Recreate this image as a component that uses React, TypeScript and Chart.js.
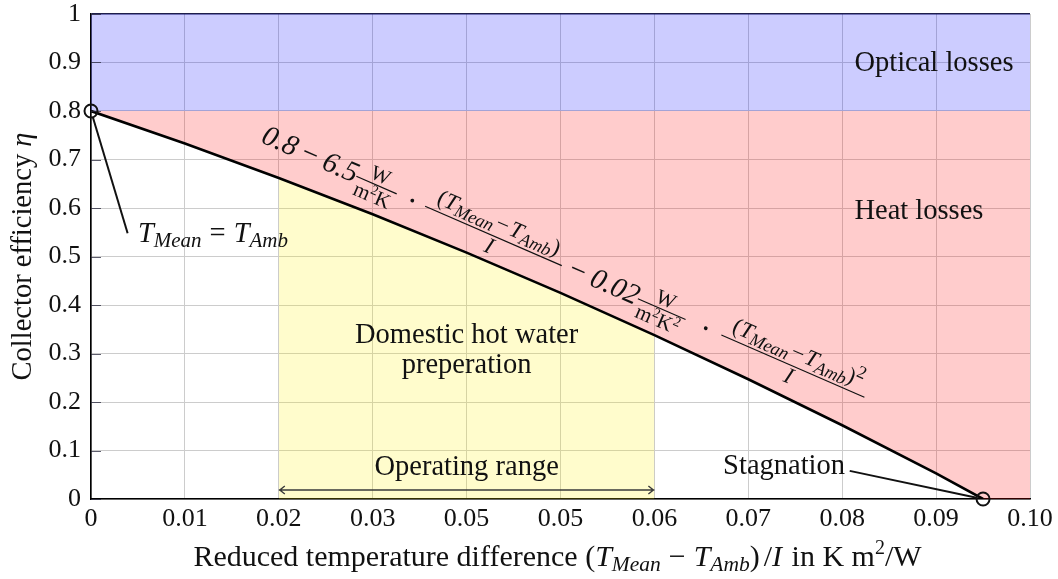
import React, { useEffect, useRef } from 'react';
import { Chart, registerables } from 'chart.js';

Chart.register(...registerables);

// Axis ticks
const xTickValues = [0, 0.01, 0.02, 0.03, 0.04, 0.05, 0.06, 0.07, 0.08, 0.09, 0.1];
const xTickLabels = ['0', '0.01', '0.02', '0.03', '0.05', '0.05', '0.06', '0.07', '0.08', '0.09', '0.10'];
const yTickValues = [0, 0.1, 0.2, 0.3, 0.4, 0.5, 0.6, 0.7, 0.8, 0.9, 1];
const yTickLabels = ['0', '0.1', '0.2', '0.3', '0.4', '0.5', '0.6', '0.7', '0.8', '0.9', '1'];

// Collector efficiency curve
const reducedTempDiff = [0, 0.01, 0.02, 0.03, 0.04, 0.05, 0.06, 0.07, 0.08, 0.09, 0.095];
const efficiency = [0.8, 0.733, 0.662, 0.587, 0.508, 0.425, 0.338, 0.247, 0.152, 0.053, 0];

// Regions
const xMax = 0.1;
const yMax = 1;
const opticalEfficiency = 0.8;
const operatingRange = [0.02, 0.06];
const operatingArrowY = 0.0186;

// Marked points: zero-loss point and stagnation point
const zeroLossPoint = { x: 0, y: 0.8 };
const stagnationPoint = { x: 0.095, y: 0 };

const SERIF = '"Liberation Serif", "Times New Roman", serif';
const INK = '#111111';
const TEXT = 28.5;

type Seg = { t: string; size: number; italic?: boolean; dy?: number; gap?: number };

function fontOf(s: Seg) {
  return `${s.italic ? 'italic ' : ''}${s.size}px ${SERIF}`;
}

function richWidth(ctx: CanvasRenderingContext2D, segs: Seg[]) {
  let w = 0;
  for (const s of segs) {
    ctx.font = fontOf(s);
    w += ctx.measureText(s.t).width + (s.gap || 0);
  }
  return w;
}

function drawRich(
  ctx: CanvasRenderingContext2D,
  segs: Seg[],
  x: number,
  y: number,
  align: 'left' | 'center' | 'right' = 'left'
) {
  const w = richWidth(ctx, segs);
  let cx = align === 'left' ? x : align === 'center' ? x - w / 2 : x - w;
  ctx.textAlign = 'left';
  ctx.textBaseline = 'alphabetic';
  for (const s of segs) {
    ctx.font = fontOf(s);
    ctx.fillText(s.t, cx, y + (s.dy || 0));
    cx += ctx.measureText(s.t).width + (s.gap || 0);
  }
  return w;
}

function drawFraction(
  ctx: CanvasRenderingContext2D,
  x0: number,
  x1: number,
  axis: number,
  num: Seg[],
  den: Seg[],
  numShift: number,
  denShift: number
) {
  const mid = (x0 + x1) / 2;
  ctx.beginPath();
  ctx.lineWidth = 1.2;
  ctx.moveTo(x0, axis);
  ctx.lineTo(x1, axis);
  ctx.stroke();
  drawRich(ctx, num, mid, axis - numShift, 'center');
  drawRich(ctx, den, mid, axis + denShift, 'center');
}

function drawDot(ctx: CanvasRenderingContext2D, x: number, y: number) {
  ctx.beginPath();
  ctx.arc(x, y, 1.9, 0, Math.PI * 2);
  ctx.fill();
}

const S = 23; // script size
const SS = 18; // second-level script size

const tempDiffNum = (squared: boolean): Seg[] => {
  const segs: Seg[] = [
    { t: '(', size: S },
    { t: 'T', size: S, italic: true },
    { t: 'Mean', size: SS, italic: true, dy: 4, gap: 2 },
    { t: '−', size: S, gap: 2 },
    { t: 'T', size: S, italic: true },
    { t: 'Amb', size: SS, italic: true, dy: 4 },
    { t: ')', size: S },
  ];
  if (squared) segs.push({ t: '2', size: SS, dy: -9 });
  return segs;
};

const overlayPlugin = {
  id: 'efficiencyOverlay',
  afterDraw(chart: any) {
    const { ctx, scales, chartArea } = chart;
    const xs = scales.x;
    const ys = scales.y;
    const px = (v: number) => xs.getPixelForValue(v);
    const py = (v: number) => ys.getPixelForValue(v);

    ctx.save();
    ctx.fillStyle = INK;
    ctx.strokeStyle = INK;

    // inner tick marks on the left axis
    ctx.strokeStyle = 'rgba(40,40,60,0.75)';
    ctx.lineWidth = 1;
    for (const v of yTickValues) {
      const yy = Math.round(py(v)) + 0.5;
      ctx.beginPath();
      ctx.moveTo(chartArea.left, yy);
      ctx.lineTo(chartArea.left + 10, yy);
      ctx.stroke();
    }
    ctx.strokeStyle = INK;

    // region labels
    ctx.fillStyle = INK;
    drawRich(ctx, [{ t: 'Optical losses', size: TEXT }], px(0.0813), py(0.882), 'left');
    drawRich(ctx, [{ t: 'Heat losses', size: TEXT }], px(0.0813), py(0.577), 'left');
    drawRich(ctx, [{ t: 'Domestic hot water', size: TEXT }], px(0.04), py(0.322), 'center');
    drawRich(ctx, [{ t: 'preperation', size: TEXT }], px(0.04), py(0.26), 'center');
    drawRich(ctx, [{ t: 'Operating range', size: TEXT }], px(0.04), py(0.049), 'center');

    // operating range double arrow
    const ay = py(operatingArrowY);
    const ax0 = px(operatingRange[0]);
    const ax1 = px(operatingRange[1]);
    ctx.strokeStyle = '#3a3a3a';
    ctx.lineWidth = 1.4;
    ctx.beginPath();
    ctx.moveTo(ax0, ay);
    ctx.lineTo(ax1, ay);
    ctx.moveTo(ax0 + 6, ay - 4);
    ctx.lineTo(ax0 + 1, ay);
    ctx.lineTo(ax0 + 6, ay + 4);
    ctx.moveTo(ax1 - 6, ay - 4);
    ctx.lineTo(ax1 - 1, ay);
    ctx.lineTo(ax1 - 6, ay + 4);
    ctx.stroke();

    // marker circles and leader lines
    ctx.strokeStyle = INK;
    ctx.lineWidth = 2;
    const r = 6.5;
    const leader = (p: { x: number; y: number }, tx: number, ty: number) => {
      const cx = px(p.x);
      const cy = py(p.y);
      const ex = px(tx);
      const ey = py(ty);
      const d = Math.hypot(ex - cx, ey - cy);
      ctx.beginPath();
      ctx.moveTo(cx + ((ex - cx) / d) * r, cy + ((ey - cy) / d) * r);
      ctx.lineTo(ex, ey);
      ctx.stroke();
      ctx.beginPath();
      ctx.arc(cx, cy, r, 0, Math.PI * 2);
      ctx.stroke();
    };
    leader(zeroLossPoint, 0.0039, 0.548);
    leader(stagnationPoint, 0.0808, 0.058);

    drawRich(
      ctx,
      [
        { t: 'T', size: TEXT, italic: true },
        { t: 'Mean', size: 21, italic: true, dy: 5, gap: 8 },
        { t: '=', size: TEXT, gap: 8 },
        { t: 'T', size: TEXT, italic: true },
        { t: 'Amb', size: 21, italic: true, dy: 5 },
      ],
      px(0.005),
      py(0.53),
      'left'
    );
    drawRich(ctx, [{ t: 'Stagnation', size: TEXT }], px(0.0803), py(0.052), 'right');

    // efficiency formula written along the curve
    ctx.save();
    ctx.translate(px(0.018), py(0.736));
    ctx.rotate((23.5 * Math.PI) / 180);
    const axis = -7;
    const M = 29;
    drawRich(ctx, [{ t: '0.8', size: M, italic: true }], 0, 0, 'left');
    drawRich(ctx, [{ t: '−', size: M }], 51, 0, 'center');
    drawRich(ctx, [{ t: '6.5', size: M, italic: true }], 66, 0, 'left');
    drawFraction(
      ctx, 102, 146, axis,
      [{ t: 'W', size: 21 }],
      [{ t: 'm', size: 21 }, { t: '2', size: 14, dy: -8 }, { t: 'K', size: 21 }],
      4, 18
    );
    drawDot(ctx, 163, axis);
    drawFraction(ctx, 177, 326, axis, tempDiffNum(false), [{ t: 'I', size: S, italic: true }], 7, 18);
    drawRich(ctx, [{ t: '−', size: M }], 343, 0, 'center');
    drawRich(ctx, [{ t: '0.02', size: M, italic: true }], 358, 0, 'left');
    drawFraction(
      ctx, 409, 461, axis,
      [{ t: 'W', size: 21 }],
      [
        { t: 'm', size: 21 },
        { t: '2', size: 14, dy: -8 },
        { t: 'K', size: 21 },
        { t: '2', size: 14, dy: -8 },
      ],
      4, 18
    );
    drawDot(ctx, 483, axis);
    drawFraction(ctx, 500, 656, axis, tempDiffNum(true), [{ t: 'I', size: S, italic: true }], 7, 18);
    ctx.restore();

    // axis titles
    const XT = 30;
    const xTitle: Seg[] = [
      { t: 'Reduced temperature difference (', size: XT },
      { t: 'T', size: XT, italic: true },
      { t: 'Mean', size: 21.5, italic: true, dy: 5, gap: 8 },
      { t: '−', size: XT, gap: 8 },
      { t: 'T', size: XT, italic: true },
      { t: 'Amb', size: 21.5, italic: true, dy: 5 },
      { t: ')', size: XT, gap: 4 },
      { t: '/', size: XT },
      { t: 'I', size: XT, italic: true, gap: 2 },
      { t: ' in K m', size: XT },
      { t: '2', size: 20, dy: -12 },
      { t: '/W', size: XT },
    ];
    drawRich(ctx, xTitle, (chartArea.left + chartArea.right) / 2 - 3, 566, 'center');

    ctx.save();
    ctx.translate(31, (chartArea.top + chartArea.bottom) / 2);
    ctx.rotate(-Math.PI / 2);
    drawRich(
      ctx,
      [
        { t: 'Collector efficiency ', size: TEXT },
        { t: 'η', size: TEXT, italic: true },
      ],
      0,
      0,
      'center'
    );
    ctx.restore();

    ctx.restore();
  },
};

export default function App() {
  const canvasRef = useRef<HTMLCanvasElement | null>(null);

  useEffect(() => {
    if (!canvasRef.current) return;

    const curve = reducedTempDiff.map((x, i) => ({ x, y: efficiency[i] }));
    const operating = curve.filter((p) => p.x >= operatingRange[0] && p.x <= operatingRange[1]);
    const heatLossBoundary = [...curve, { x: xMax, y: 0 }];
    const opticalTop = [
      { x: 0, y: yMax },
      { x: xMax, y: yMax },
    ];
    const clear = 'rgba(0,0,0,0)';

    const chart = new Chart(canvasRef.current, {
      type: 'line',
      data: {
        datasets: [
          {
            label: 'Collector efficiency',
            data: curve,
            borderColor: '#000000',
            borderWidth: 2.6,
            pointRadius: 0,
            fill: false,
            tension: 0,
          },
          {
            label: 'Domestic hot water',
            data: operating,
            borderColor: clear,
            borderWidth: 0,
            pointRadius: 0,
            fill: 'origin',
            backgroundColor: 'rgba(255,240,0,0.2)',
            tension: 0,
          },
          {
            label: 'Heat losses',
            data: heatLossBoundary,
            borderColor: clear,
            borderWidth: 0,
            pointRadius: 0,
            fill: { value: opticalEfficiency },
            backgroundColor: 'rgba(255,0,0,0.2)',
            tension: 0,
          },
          {
            label: 'Optical losses',
            data: opticalTop,
            borderColor: clear,
            borderWidth: 0,
            pointRadius: 0,
            fill: { value: opticalEfficiency },
            backgroundColor: 'rgba(0,0,255,0.2)',
            tension: 0,
          },
        ],
      },
      options: {
        animation: false,
        responsive: false,
        devicePixelRatio: 1,
        layout: { padding: { top: 14, right: 28, left: 0, bottom: 0 } },
        plugins: {
          legend: { display: false },
          tooltip: { enabled: false },
        },
        scales: {
          x: {
            type: 'linear',
            min: 0,
            max: xMax,
            afterBuildTicks: (s: any) => {
              s.ticks = xTickValues.map((v) => ({ value: v }));
            },
            afterFit: (s: any) => {
              s.height = 80;
              s.paddingLeft = 0;
              s.paddingRight = 0;
            },
            ticks: {
              callback: (_v: any, i: number) => xTickLabels[i],
              font: { family: SERIF, size: 26, lineHeight: 1 },
              color: INK,
              padding: 7,
              maxRotation: 0,
              autoSkip: false,
            },
            grid: {
              color: '#cccccc',
              lineWidth: 1,
              drawTicks: false,
            },
            border: { display: true, color: '#000000', width: 1.6 },
          },
          y: {
            type: 'linear',
            min: 0,
            max: yMax,
            afterBuildTicks: (s: any) => {
              s.ticks = yTickValues.map((v) => ({ value: v }));
            },
            afterFit: (s: any) => {
              s.width = 91;
              s.paddingTop = 0;
              s.paddingBottom = 0;
            },
            ticks: {
              callback: (_v: any, i: number) => yTickLabels[i],
              font: { family: SERIF, size: 26, lineHeight: 1 },
              color: INK,
              padding: 10,
              autoSkip: false,
            },
            grid: {
              color: (c: any) => (c.tick && c.tick.value === yMax ? '#1e1e4a' : '#cccccc'),
              lineWidth: (c: any) => (c.tick && c.tick.value === yMax ? 1.6 : 1),
              drawTicks: false,
            },
            border: { display: true, color: '#000000', width: 1.6 },
          },
        },
      },
      plugins: [overlayPlugin],
    });

    return () => chart.destroy();
  }, []);

  return (
    <div style={{ position: 'absolute', left: 0, top: 0, width: 1058, height: 579, background: '#ffffff' }}>
      <canvas ref={canvasRef} width={1058} height={579} style={{ display: 'block' }} />
    </div>
  );
}
